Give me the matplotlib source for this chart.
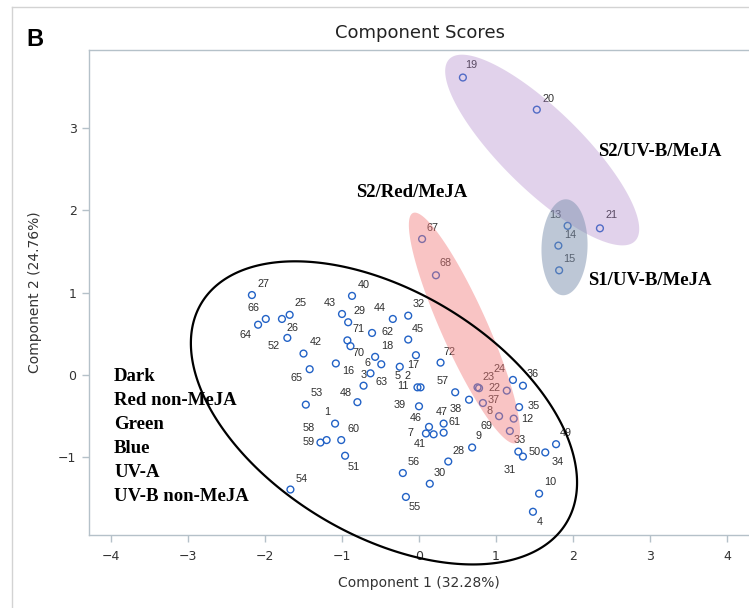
import numpy as np
import matplotlib
matplotlib.use("Agg")
import matplotlib.pyplot as plt
from matplotlib.lines import Line2D
from matplotlib.patches import Polygon

# PCA component scores for the 72 samples
sample_ids = list(range(1, 73))
comp1 = [-1.09, 0.02, -0.72, 1.48, -0.25, -0.49, 0.09, 0.83, 0.69, 1.56,
         -0.02, 1.23, 1.93, 1.81, 1.82, -1.08, -0.04, -0.57, 0.57, 1.53,
         2.35, 0.78, 0.76, 1.22, -1.68, -1.78, -2.17, 0.38, -0.92, 0.14,
         1.35, -0.14, 1.18, 1.64, 1.30, 1.35, 1.14, 0.65, 0.00, -0.87,
         0.19, -1.50, -1.00, -0.34, -0.14, 0.13, 0.32, -0.80, 1.78, 1.29,
         -0.96, -1.71, -1.47, -1.67, -0.17, -0.21, 0.47, -1.20, -1.28, -1.01,
         0.32, -0.61, -0.63, -2.09, -1.42, -1.99, 0.04, 0.22, 1.04, -0.89,
         -0.93, 0.28]
comp2 = [-0.59, -0.15, -0.13, -1.66, 0.10, 0.13, -0.71, -0.34, -0.88, -1.44,
         -0.15, -0.53, 1.81, 1.57, 1.27, 0.14, 0.24, 0.22, 3.61, 3.22,
         1.78, -0.16, -0.15, -0.06, 0.73, 0.68, 0.97, -1.05, 0.64, -1.32,
         -0.99, 0.72, -0.68, -0.94, -0.39, -0.13, -0.19, -0.30, -0.38, 0.96,
         -0.72, 0.26, 0.74, 0.68, 0.43, -0.63, -0.59, -0.33, -0.84, -0.93,
         -0.98, 0.45, -0.36, -1.39, -1.48, -1.19, -0.21, -0.79, -0.82, -0.79,
         -0.70, 0.51, 0.02, 0.61, 0.07, 0.68, 1.65, 1.21, -0.50, 0.35,
         0.42, 0.15]

x_ticks = [-4, -3, -2, -1, 0, 1, 2, 3, 4]
y_ticks = [-1, 0, 1, 2, 3]
x_title = "Component 1 (32.28%)"
y_title = "Component 2 (24.76%)"
chart_title = "Component Scores"
left_groups = ["Dark", "Red non-MeJA", "Green", "Blue", "UV-A", "UV-B non-MeJA"]

# where each point label sits relative to its marker (pixels, y up)
label_offsets = {
    1: (-8, 12), 2: (-13, 11), 3: (0, 11), 4: (7, -10), 5: (-2, -9), 6: (-14, 1),
    7: (-15, 0), 8: (7, -8), 9: (6, 11), 10: (11, 12), 11: (-15, 1), 12: (14, 0),
    13: (-12, 11), 14: (12, 11), 15: (10, 11), 16: (12, -8), 17: (-3, -10), 18: (12, 11),
    19: (8, 13), 20: (12, 11), 21: (12, 13), 22: (15, 0), 23: (11, 10), 24: (-13, 11),
    25: (11, 12), 26: (11, -9), 27: (12, 11), 28: (10, 11), 29: (11, 11), 30: (10, 11),
    31: (-13, -13), 32: (10, 12), 33: (10, -9), 34: (12, -10), 35: (15, 1), 36: (10, 12),
    37: (-13, -9), 38: (-13, -9), 39: (-19, 1), 40: (12, 11), 41: (-14, -10), 42: (12, 12),
    43: (-12, 11), 44: (-13, 11), 45: (10, 11), 46: (-13, 9), 47: (-2, 12), 48: (-12, 9),
    49: (10, 11), 50: (16, 0), 51: (9, -11), 52: (-14, -8), 53: (11, 12), 54: (11, 11),
    55: (9, -10), 56: (11, 11), 57: (-13, 11), 58: (-18, 12), 59: (-12, 1), 60: (12, 11),
    61: (11, 11), 62: (15, 1), 63: (11, -9), 64: (-13, -10), 65: (-13, -9), 66: (-12, 11),
    67: (10, 11), 68: (10, 12), 69: (-13, -10), 70: (8, -7), 71: (11, 11), 72: (9, 11),
}

W, H = 749, 608
fig = plt.figure(figsize=(W / 100, H / 100), dpi=100, facecolor="white")

# light outer panel frame
fig.add_artist(Line2D([12 / W, 12 / W], [0, 1 - 7 / H], transform=fig.transFigure,
                      color="#d3d3d3", lw=1.0))
fig.add_artist(Line2D([12 / W, 1], [1 - 7 / H, 1 - 7 / H], transform=fig.transFigure,
                      color="#d3d3d3", lw=1.0))

ax = fig.add_axes([89 / W, 1 - 535 / H, (W - 89) / W, (535 - 50) / H])
ax.set_xlim(-4.286, 4.286)
ax.set_ylim(-1.942, 3.944)

axis_col = "#b5c1c9"
for side in ["left", "bottom", "top"]:
    ax.spines[side].set_color(axis_col)
    ax.spines[side].set_linewidth(1.0)
ax.spines["right"].set_visible(False)
ax.set_xticks(x_ticks)
ax.set_yticks(y_ticks)
ax.set_xticklabels([str(v).replace("-", "\u2212") for v in x_ticks])
ax.set_yticklabels([str(v).replace("-", "\u2212") for v in y_ticks])
ax.tick_params(axis="both", direction="out", length=5, width=1.0, color=axis_col,
               labelsize=9, labelcolor="#333333")
ax.tick_params(axis="x", pad=6)
ax.tick_params(axis="y", pad=4)

# sample markers and their number labels
ax.scatter(comp1, comp2, s=24, facecolors="none", edgecolors="#2262c6",
           linewidths=1.0, zorder=3)
for sid, x, y in zip(sample_ids, comp1, comp2):
    dx, dy = label_offsets[sid]
    ax.annotate(str(sid), (x, y), xytext=(dx, dy), textcoords="offset pixels",
                ha="center", va="center", fontsize=7.8, color="#2e2e2e",
                family="Liberation Sans", zorder=3)


def ellipse_outline(cx, cy, a_px, b_px, angle_deg):
    """Ellipse with semi-axes given in screen pixels, centred at a data point."""
    sx = ax.bbox.width / (ax.get_xlim()[1] - ax.get_xlim()[0])
    sy = ax.bbox.height / (ax.get_ylim()[1] - ax.get_ylim()[0])
    t = np.linspace(0, 2 * np.pi, 400)
    th = np.deg2rad(angle_deg)
    u, v = a_px * np.cos(t), b_px * np.sin(t)
    dx = u * np.cos(th) - v * np.sin(th)
    dy = u * np.sin(th) + v * np.cos(th)
    return np.column_stack([cx + dx / sx, cy + dy / sy])


# group shading
ax.add_patch(Polygon(ellipse_outline(0.59, 0.57, 126, 23, -65.9), closed=True,
                     facecolor="#f27c7c", edgecolor="none", alpha=0.45, zorder=4))
ax.add_patch(Polygon(ellipse_outline(1.60, 2.73, 130, 40, -44.4), closed=True,
                     facecolor="#a97ec6", edgecolor="none", alpha=0.35, zorder=4))
ax.add_patch(Polygon(ellipse_outline(1.89, 1.55, 48, 23, 88), closed=True,
                     facecolor="#7d91af", edgecolor="none", alpha=0.5, zorder=4))
ax.add_patch(Polygon(ellipse_outline(-0.455, -0.46, 213, 122, -31), closed=True,
                     facecolor="none", edgecolor="black", lw=1.6, zorder=5,
                     clip_on=False))

group_font = dict(family="Liberation Serif", weight="bold", fontsize=13.5,
                  color="black", zorder=6, va="center", ha="left")
ax.text(-0.82, 2.21, "S2/Red/MeJA", **group_font)
ax.text(2.32, 2.71, "S2/UV-B/MeJA", **group_font)
ax.text(2.19, 1.15, "S1/UV-B/MeJA", **group_font)
for i, name in enumerate(left_groups):
    ax.text(-3.96, -0.02 - i * 0.291, name, **group_font)

fig.text(420 / W, 1 - 33 / H, chart_title, ha="center", va="center",
         fontsize=13, color="#222222")
fig.text(26 / W, 1 - 39 / H, "B", ha="left", va="center", fontsize=17,
         weight="bold", family="Liberation Sans", color="black")
fig.text(419 / W, 1 - 583 / H, x_title, ha="center", va="center",
         fontsize=10, color="#333333")
fig.text(35 / W, 1 - 292 / H, y_title, ha="center", va="center", rotation=90,
         fontsize=10, color="#333333")

fig.savefig("out.png", dpi=100, facecolor="white")
